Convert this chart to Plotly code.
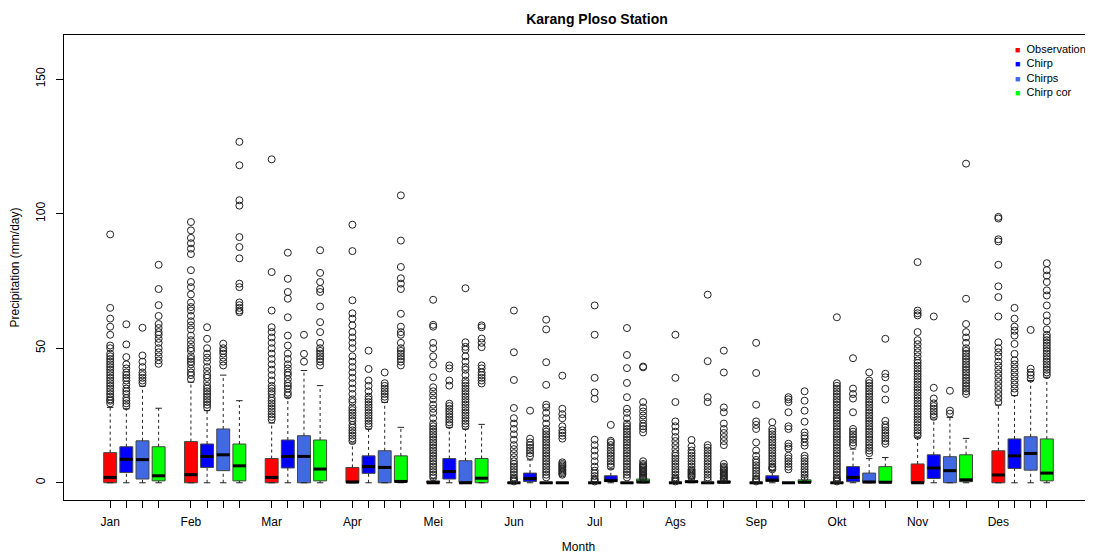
import plotly.graph_objects as go

months = ["Jan", "Feb", "Mar", "Apr", "Mei", "Jun", "Jul", "Ags", "Sep", "Okt", "Nov", "Des"]
series_names = ["Observation", "Chirp", "Chirps", "Chirp cor"]
series_colors = ["#FF0000", "#0000FF", "#4169E1", "#00FF00"]

# ---- box statistics (mm/day) ----
obs_q1 = [0, 0, 0, 0, 0, 0, 0, 0, 0, 0, 0, 0]
obs_med = [2, 3, 2, 0.3, 0, 0, 0, 0, 0, 0, 0, 2.9]
obs_q3 = [11.2, 15.3, 9, 5.7, 0.7, 0, 0, 0, 0, 0, 7, 11.9]
obs_lo = [0, 0, 0, 0, 0, 0, 0, 0, 0, 0, 0, 0]
obs_hi = [28, 37.4, 22.2, 14.8, 1.5, 0, 0, 0, 0, 0, 16.9, 28.9]

chirp_q1 = [3.8, 5.7, 5.5, 3.5, 1.4, 0.5, 0.5, 0.2, 0.5, 0.4, 1.6, 5.3]
chirp_med = [8.7, 9.8, 9.8, 6, 4.2, 1.6, 0.8, 0.4, 1, 2, 5.5, 10]
chirp_q3 = [13.4, 14.4, 15.9, 10, 9, 3.6, 2.6, 0.7, 2.6, 6, 10.4, 16.3]
chirp_lo = [0, 0, 0, 0, 0, 0, 0, 0, 0, 0, 0, 0]
chirp_hi = [27.5, 26.8, 31.8, 20, 20.6, 8.5, 5.2, 1.5, 4.5, 12.5, 23.7, 32.4]

chirps_q1 = [1.4, 4.5, 0, 0, 0, 0, 0, 0, 0, 0, 0, 4.7]
chirps_med = [8.6, 10.4, 9.8, 5.7, 0, 0, 0, 0, 0, 0.3, 4.5, 10.9]
chirps_q3 = [15.6, 20, 17.5, 11.9, 8.2, 0, 0, 0, 0, 3.6, 9.7, 17.1]
chirps_lo = [0, 0, 0, 0, 0, 0, 0, 0, 0, 0, 0, 0]
chirps_hi = [35.9, 40, 41.7, 29.9, 20, 0, 0, 0, 0, 9, 24.3, 38]

cor_q1 = [0.7, 0.7, 0.7, 0.3, 0, 0, 0, 0, 0, 0, 0.4, 0.7]
cor_med = [2.6, 6.3, 5.1, 0.5, 1.7, 0, 0.3, 0.2, 0.2, 0.2, 1.1, 3.6]
cor_q3 = [13.4, 14.4, 15.9, 10, 9, 0, 1.4, 0.7, 1.1, 6, 10.4, 16.3]
cor_lo = [0, 0, 0, 0, 0, 0, 0, 0, 0, 0, 0, 0]
cor_hi = [27.7, 30.5, 36.1, 20.6, 21.7, 0, 3, 1.5, 2.5, 9.4, 16.5, 39.2]

# ---- outliers per month ----
obs_out = [
    [29.5, 30.5, 31, 32, 33, 34, 35, 36, 37, 38, 39, 40, 41, 42, 43, 44, 45, 46, 47, 48, 50, 51, 55, 58, 61, 65, 92.3],
    [38.5, 40, 41, 42.4, 44, 45, 46, 47, 49, 50, 51.5, 53, 54.7, 57, 58.5, 60, 62, 64, 65.3, 67, 70, 72.7, 74.6, 79, 85, 87, 89, 91, 93.8, 96.9],
    [23.5, 24.5, 25.5, 26.5, 27.5, 28.5, 29.5, 30.5, 31.5, 33, 34, 35, 36, 38, 40, 42, 44, 46, 48, 50, 52, 54, 56, 57.8, 64, 78.3, 120.2],
    [15.5, 16.5, 17.5, 18.5, 19.5, 20.5, 21.5, 23, 24, 25, 26, 27, 28, 30, 31, 33, 35, 37, 39, 41, 43, 45, 47, 50, 52, 54, 56, 58.5, 61, 63, 67.8, 86.1, 95.9],
    [2, 3, 4, 5, 6, 7, 8, 9, 10, 11, 12, 13, 14, 15, 16, 17, 18, 19, 20, 21, 22, 24, 26, 27.5, 29, 31, 32.5, 34, 35.5, 39.2, 44, 47, 50, 52, 58, 58.7, 68],
    [0.5, 1, 1.5, 2, 3, 4, 5, 6, 7, 8, 9.5, 11, 12.5, 14, 16, 18, 20, 22, 24, 27.8, 38.2, 48.5, 64],
    [0.5, 1, 1.5, 2.5, 3.5, 4.5, 6, 8, 10, 12, 14, 16, 31.2, 33.6, 39, 55, 65.9],
    [0.5, 1, 1.5, 2, 3, 4, 5, 6, 7, 8, 9, 10, 11, 12.5, 14, 15.5, 17, 19, 21, 22.8, 30, 39, 55],
    [0.5, 1, 1.5, 2.5, 3.5, 4.5, 5.5, 6.5, 7.5, 8.5, 10, 12, 15, 20, 21.5, 22.8, 29, 40.8, 52],
    [0.5, 1, 1.5, 2, 3, 4, 5, 6, 7, 8, 9, 10, 11, 12, 13, 14, 15, 16, 17, 18, 19, 20, 21, 22, 23, 24, 25, 26, 27, 28, 29, 30, 31, 32, 33, 34, 35, 36, 37, 61.5],
    [17.5, 18.5, 19.5, 20.5, 21.5, 22.5, 23.5, 24.5, 25.5, 26.5, 27.5, 28.5, 29.5, 30.5, 31.5, 32.5, 33.5, 34.5, 35.5, 36.5, 37.5, 38.5, 39.5, 40.5, 41.5, 42.5, 43.5, 44.5, 45.5, 47, 48.5, 50, 51.5, 53, 56, 62.2, 63, 64, 82],
    [30, 31.5, 33, 34.5, 36, 37.5, 39, 40.5, 42, 43.5, 45, 47, 48.5, 50, 52.2, 61.8, 69, 73, 81, 89.7, 90.5, 98.2, 98.8],
]
chirp_out = [
    [28.5, 29.5, 30.5, 31.5, 33, 34, 35, 36.5, 38, 39, 40, 41, 42.5, 44, 46.7, 51.4, 58.9],
    [28, 29, 30, 31, 32, 33, 34, 35, 36, 37.5, 39, 40, 41.5, 43, 45, 46.5, 48, 50, 53.5, 57.8],
    [32.5, 33.5, 35, 36, 37, 38.5, 40, 41, 42.5, 44, 46, 48, 51, 54.7, 61.5, 68.4, 70.9, 75.8, 85.5],
    [21, 22, 23, 24, 25, 26, 27, 28, 29, 30, 31, 32, 34, 36, 38, 42.3, 49.1],
    [21.5, 22.5, 23.5, 24.5, 25.5, 26.5, 27.5, 28.5, 29.4, 36.1, 38, 42.5, 43.6],
    [10, 11, 12, 13, 14, 15, 16.4, 26.8],
    [6, 7, 8, 9, 10, 11, 12, 13, 14, 15, 15.6, 21.5],
    [2, 2.5, 3, 3.5, 4, 4.5, 5, 6, 7, 8, 9, 10, 11, 12, 13.5, 15.9],
    [5, 5.5, 6, 7, 8, 9, 10, 11, 12, 13, 14, 15, 16, 17, 18, 19, 20, 22.5],
    [14, 15, 16, 17, 18, 19, 20, 26.2, 31.3, 33, 35, 46.3],
    [24.5, 25.5, 26.5, 27.5, 28.5, 29.5, 31.3, 35.3, 61.8],
    [33.5, 35, 36.5, 38, 39.5, 41, 42.5, 44, 45.5, 47.9, 51.6, 54.7, 56.5, 58, 61, 65],
]
chirps_out = [
    [37, 38, 39, 40, 41, 43, 45, 47.3, 57.6],
    [43.6, 45, 46.5, 48, 49, 50, 51.7],
    [45, 47.9, 55],
    [31, 32, 33, 34, 35, 36, 37, 41],
    [21, 22, 23, 24, 25, 26, 27, 28, 29, 30, 31, 32, 33, 34, 35, 36, 37, 38, 40, 42, 43, 45, 47, 49.5, 50.5, 52.2, 72.3],
    [2, 3, 4, 5, 6, 7, 8, 9, 10, 11, 12, 13, 14, 15, 16, 17, 18, 19, 20, 22, 24, 26, 28, 29, 36.4, 44.8, 57, 60.6],
    [2, 3, 4, 5, 6, 7, 8, 9, 10, 11, 12, 13, 14, 15, 16, 17, 18, 19, 20, 21, 22, 24, 26, 27.5, 31.8, 37.1, 42.6, 47.5, 57.5],
    [1, 2, 3, 4, 5, 6, 7, 8, 9, 10, 11, 12, 13, 14, 30, 31.8, 45.2, 69.9],
    [5, 6, 7, 8, 9, 10, 12.7, 13.5, 14.5, 20, 21, 26.2, 30, 31, 31.8],
    [11, 12, 13, 14, 15, 16, 17, 18, 19, 20, 21, 22, 23, 24, 25, 26, 27, 28, 29, 30, 31, 32, 33, 34, 35, 36, 37, 38, 41],
    [25.7, 26.8, 34.2],
    [38.7, 40, 41, 42.4, 56.8],
]
cor_out = [
    [44.2, 45.5, 47, 48.5, 50, 52, 53.5, 55, 56, 57.5, 59, 62, 66, 72, 81],
    [63.4, 64, 65, 66, 67, 72.7, 74, 83.4, 87.6, 91.3, 103, 105, 118, 126.7],
    [43.6, 45, 46, 47, 48, 49, 50, 52, 56, 59.7, 65.5, 70.9, 72, 74.6, 78, 86.4],
    [43.6, 45, 46, 47, 48, 49, 50, 52, 55, 56, 58, 62.8, 72, 74, 76, 80.2, 90, 106.8],
    [36.9, 38, 39, 40, 41, 42.5, 43.6, 50.4, 52, 53.6, 57.8, 58.5],
    [3, 3.5, 4, 4.5, 5, 5.5, 6, 6.5, 7, 7.6, 16.4, 17.5, 18.5, 19.5, 21, 24, 25.5, 27.5, 39.8],
    [1.6, 2, 2.5, 3, 3.5, 4, 4.5, 5, 5.5, 6, 6.5, 7, 8, 18.7, 20, 21, 22, 23.5, 25, 26.5, 28, 30, 42.9, 43.2],
    [1, 1.5, 2, 2.5, 3, 3.5, 4, 4.5, 5, 5.5, 6, 7, 14, 15.5, 17, 18.5, 20, 22, 26.2, 28, 41, 49.1],
    [2, 3, 4, 5, 6, 7, 8, 9, 10, 13.8, 15, 16.5, 17.5, 18.7, 22.7, 26.8, 30.5, 34],
    [14.5, 15.5, 16.5, 17.5, 18.5, 19.5, 20.5, 21.5, 23, 30.9, 34.9, 39.2, 40.5, 53.5],
    [33, 34, 35, 36, 37, 38, 39, 40, 41, 42, 43, 44, 45, 46, 47, 48, 49, 50, 52, 54, 56, 59, 68.4, 118.6],
    [40, 41, 42, 43, 44, 45, 46, 47, 48, 49, 50, 51, 52, 53, 54, 55, 57, 60, 62.2, 65.9, 69.6, 71.5, 74.6, 77, 79, 81.6],
]

stats = [
    (obs_q1, obs_med, obs_q3, obs_lo, obs_hi, obs_out),
    (chirp_q1, chirp_med, chirp_q3, chirp_lo, chirp_hi, chirp_out),
    (chirps_q1, chirps_med, chirps_q3, chirps_lo, chirps_hi, chirps_out),
    (cor_q1, cor_med, cor_q3, cor_lo, cor_hi, cor_out),
]

FONT = "Liberation Sans, Arial, Helvetica, sans-serif"
BOXW = 0.8
STAPLE = 0.2

# page body has an 8px default margin: figure is sized to fill the rest of the window
W, H = 1085, 548
ML, MR, MT, MB = 56, 0, 27, 56

fig = go.Figure()


def pos(m, s):
    # 4 boxes per month, one empty slot between months
    return m * 5 + s + 1


# whiskers (dashed) and staples
wx, wy, sx, sy = [], [], [], []
for s, (q1, med, q3, lo, hi, out) in enumerate(stats):
    for m in range(12):
        p = pos(m, s)
        if hi[m] > q3[m]:
            wx += [p, p, None]; wy += [q3[m], hi[m], None]
        if lo[m] < q1[m]:
            wx += [p, p, None]; wy += [lo[m], q1[m], None]
        sx += [p - STAPLE, p + STAPLE, None, p - STAPLE, p + STAPLE, None]
        sy += [hi[m], hi[m], None, lo[m], lo[m], None]

fig.add_trace(go.Scatter(x=wx, y=wy, mode="lines", line=dict(color="#222222", width=1, dash="3px,3px"),
                         hoverinfo="skip", showlegend=False))
fig.add_trace(go.Scatter(x=sx, y=sy, mode="lines", line=dict(color="#222222", width=1),
                         hoverinfo="skip", showlegend=False))

# boxes
for s, (q1, med, q3, lo, hi, out) in enumerate(stats):
    xs = [pos(m, s) for m in range(12)]
    fig.add_trace(go.Box(
        x=xs, q1=q1, median=med, q3=q3, lowerfence=q1, upperfence=q3,
        width=BOXW, whiskerwidth=0, fillcolor=series_colors[s],
        line=dict(color="#444444", width=1), boxpoints=False,
        showlegend=False, hoverinfo="skip", name=series_names[s]))

# medians (thick)
mx, my = [], []
for s, (q1, med, q3, lo, hi, out) in enumerate(stats):
    for m in range(12):
        p = pos(m, s)
        mx += [p - BOXW / 2, p + BOXW / 2, None]
        my += [med[m], med[m], None]
fig.add_trace(go.Scatter(x=mx, y=my, mode="lines", line=dict(color="black", width=3),
                         hoverinfo="skip", showlegend=False))

# outliers
ox, oy = [], []
for s, (q1, med, q3, lo, hi, out) in enumerate(stats):
    for m in range(12):
        for v in out[m]:
            ox.append(pos(m, s)); oy.append(v)
fig.add_trace(go.Scatter(x=ox, y=oy, mode="markers",
                         marker=dict(symbol="circle-open", size=7, color="#222222", line=dict(width=1)),
                         hoverinfo="skip", showlegend=False))

# legend (R style: small filled squares with labels)
legend_lines = [
    "<span style='color:%s;font-size:9px'>\u25A0</span>\u00a0\u00a0%s" % (c, n)
    for c, n in zip(series_colors, series_names)
]
fig.add_annotation(text="<br>".join(legend_lines), xref="paper", yref="paper",
                   x=(1005 - ML) / (W - ML - MR), y=(H - MB - 33) / (H - MT - MB),
                   xanchor="left", yanchor="top", align="left", showarrow=False,
                   font=dict(size=11, family=FONT, color="black"))

tickvals = [pos(m, s) for m in range(12) for s in range(4)]
ticktext = [months[m] if s == 0 else "" for m in range(12) for s in range(4)]

fig.update_layout(
    width=W, height=H,
    margin=dict(l=ML, r=MR, t=MT, b=MB, autoexpand=False),
    paper_bgcolor="white", plot_bgcolor="white",
    boxmode="overlay", showlegend=False,
    font=dict(family=FONT, size=12, color="black"),
    title=dict(text="<b>Karang Ploso Station</b>", x=589 / W, xref="container", xanchor="center",
               y=1 - 11 / H, yref="container", yanchor="middle", font=dict(size=14, family=FONT)),
    xaxis=dict(range=[-1.86, 61.86], tickvals=tickvals, ticktext=ticktext, ticks="outside", ticklen=7,
               tickcolor="black", showgrid=False, zeroline=False, showline=True, linecolor="black",
               linewidth=1, mirror=True, ticklabelstandoff=4, automargin=False,
               title=dict(text="Month", standoff=14, font=dict(size=12))),
    yaxis=dict(range=[-6.4, 166.4], tickvals=[0, 50, 100, 150], ticks="outside", ticklen=7,
               tickcolor="black", tickangle=-90, showgrid=False, zeroline=False, showline=True,
               linecolor="black", linewidth=1, mirror=True, ticklabelstandoff=6, automargin=False,
               title=dict(text="Precipitation (mm/day)", standoff=13, font=dict(size=12))),
)

fig.write_html("out.html")
